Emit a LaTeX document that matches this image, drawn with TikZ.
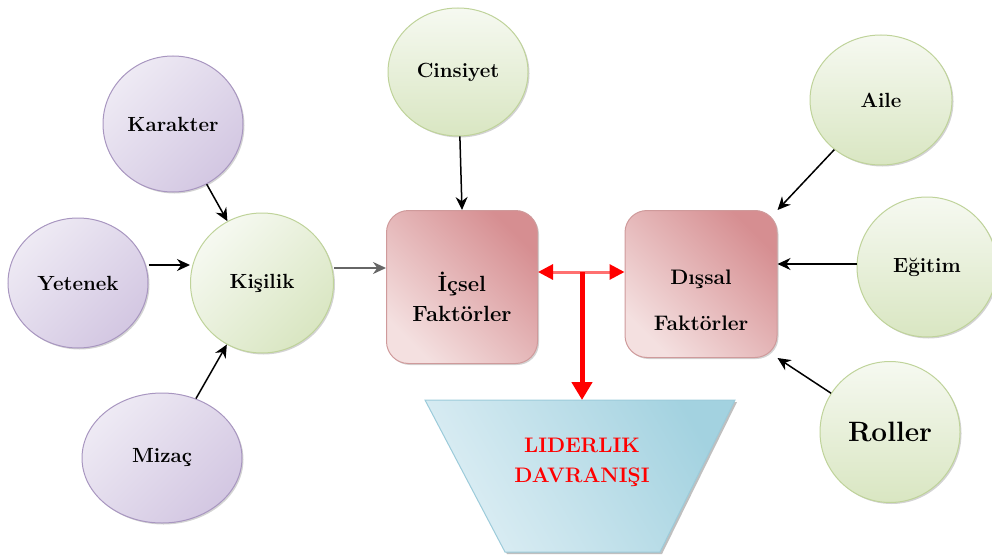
\documentclass[tikz,border=0pt]{standalone}
\usepackage{fontspec}
\usetikzlibrary{shapes.geometric,arrows.meta,shadows}
\definecolor{purfill}{HTML}{D3C7E2}
\definecolor{purlight}{HTML}{EEEAF4}
\definecolor{purdraw}{HTML}{A896C0}
\definecolor{grnfill}{HTML}{D9E6C2}
\definecolor{grnlight}{HTML}{F6F9F1}
\definecolor{grndraw}{HTML}{BFD39A}
\definecolor{pinkdark}{HTML}{D68E91}
\definecolor{pinklight}{HTML}{F4E0E0}
\definecolor{pinkdraw}{HTML}{CF9A9B}
\definecolor{bluedark}{HTML}{A3D2E0}
\definecolor{bluelight}{HTML}{DDEEF4}
\definecolor{bluedraw}{HTML}{9CCBDA}
\definecolor{lightred}{HTML}{FF7070}
\tikzset{
  lbl/.style={font=\bfseries\fontsize{20.5}{24}\selectfont, text=black, align=center},
  purball/.style={ellipse, draw=purdraw, line width=1pt, left color=purlight, right color=purfill, shading angle=45,
     inner sep=0pt, drop shadow={shadow xshift=1.5pt, shadow yshift=-1.5pt, opacity=0.35}, lbl},
  grnball/.style={ellipse, draw=grndraw, line width=1pt, top color=grnlight, bottom color=grnfill,
     inner sep=0pt, drop shadow={shadow xshift=1.5pt, shadow yshift=-1.5pt, opacity=0.35}, lbl},
  pinkbox/.style={rectangle, rounded corners=22pt, draw=pinkdraw, line width=1pt, left color=pinklight, right color=pinkdark, shading angle=135,
     inner sep=0pt, drop shadow={shadow xshift=1.5pt, shadow yshift=-1.5pt, opacity=0.35}},
  conn/.style={-{Stealth[length=13pt,width=12pt]}, line width=1.5pt, black},
}
\begin{document}
\begin{tikzpicture}[x=1pt,y=-1pt]
\useasboundingbox (0,0) rectangle (992,559);
% nodes
\node[purball, minimum width=140pt, minimum height=136pt] (kar) at (173,124) {Karakter};
\node[purball, minimum width=140pt, minimum height=130pt] (yet) at (78,283) {Yetenek};
\node[purball, minimum width=160pt, minimum height=130pt] (miz) at (162,458) {Mizaç};
\node[grnball, minimum width=143pt, minimum height=140pt, left color=grnlight, right color=grnfill, shading angle=45] (kis) at (262,283) {Kişilik};
\node[grnball, minimum width=140pt, minimum height=128pt] (cin) at (458,72) {Cinsiyet};
\node[grnball, minimum width=142pt, minimum height=130pt] (ail) at (881,100) {Aile};
\node[grnball, minimum width=140pt, minimum height=140pt] (egi) at (927,267) {Eğitim};
\node[grnball, minimum width=140pt, minimum height=141pt, font=\bfseries\fontsize{28}{32}\selectfont] (rol) at (890,432) {Roller};
\node[pinkbox, minimum width=151pt, minimum height=153pt] (ic) at (462,287) {};
\node[lbl, font=\bfseries\fontsize{22}{30}\selectfont] (iclbl) at (462,297) {İçsel\\Faktörler};
\node[pinkbox, minimum width=152pt, minimum height=147pt] (dis) at (701,284) {};
\node[lbl, font=\bfseries\fontsize{21}{46}\selectfont] (dislbl) at (701,300) {Dışsal\\Faktörler};
% trapezoid
\coordinate (tl) at (425,400);
\coordinate (tr) at (735,400);
\coordinate (br) at (660,552);
\coordinate (bl) at (505,552);
\fill[black, opacity=0.25] ([shift={(2,2)}]tl) -- ([shift={(2,2)}]tr) -- ([shift={(2,2)}]br) -- ([shift={(2,2)}]bl) -- cycle;
\shade[left color=bluelight, right color=bluedark, shading angle=120, draw=bluedraw, line width=1pt] (tl) -- (tr) -- (br) -- (bl) -- cycle;
\node[font=\bfseries\fontsize{21}{30}\selectfont, text=red, align=center] (lid) at (582,462) {LIDERLIK\\DAVRANIŞI};
% connectors
\draw[conn] (kar) -- (kis);
\draw[conn] (yet.east |- 0,265) -- (kis.west |- 0,265);
\draw[conn] (miz) -- (kis);
\draw[conn, draw=black!60, line width=2pt] (kis.east |- 0,268) -- (ic.west |- 0,268);
\draw[conn] (cin) -- (ic.north);
\draw[conn] (ail) -- (dis.north east);
\draw[conn] (egi.west |- 0,264) -- (dis.east |- 0,264);
\draw[conn] (rol) -- (dis.south east);
% red T
\coordinate (j) at (582,272);
\coordinate (t) at (582,400);
\draw[draw=lightred, line width=3pt, {Triangle[length=15pt,width=15pt,color=red]}-{Triangle[length=15pt,width=15pt,color=red]}] (ic.east |- j) -- (dis.west |- j);
\draw[draw=red, line width=5pt, -{Triangle[length=18pt,width=20pt]}] (j) -- (t);
\end{tikzpicture}
\end{document}
